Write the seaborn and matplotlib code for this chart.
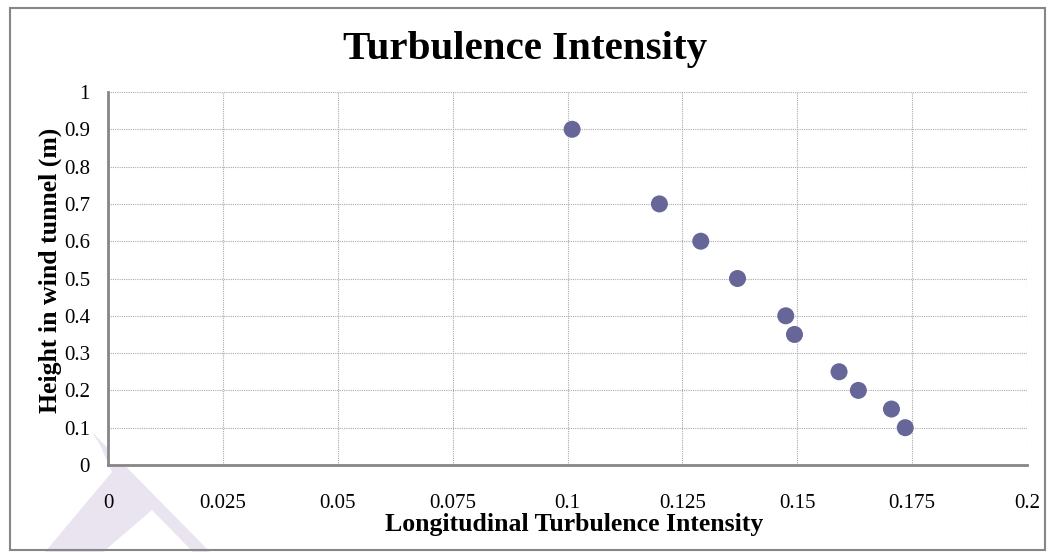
import matplotlib
matplotlib.use("Agg")
import matplotlib.pyplot as plt
import seaborn as sns
import pandas as pd
from matplotlib.patches import Rectangle, Polygon

intensity = [0.101, 0.120, 0.129, 0.137, 0.1475, 0.1494, 0.1591, 0.1633, 0.1705, 0.1735]
height = [0.9, 0.7, 0.6, 0.5, 0.4, 0.35, 0.25, 0.2, 0.15, 0.1]
x_ticks = [0, 0.025, 0.05, 0.075, 0.1, 0.125, 0.15, 0.175, 0.2]
x_labels = ["0", "0.025", "0.05", "0.075", "0.1", "0.125", "0.15", "0.175", "0.2"]
y_ticks = [0, 0.1, 0.2, 0.3, 0.4, 0.5, 0.6, 0.7, 0.8, 0.9, 1]
y_labels = ["0", "0.1", "0.2", "0.3", "0.4", "0.5", "0.6", "0.7", "0.8", "0.9", "1"]

sns.set_style("white")
plt.rcParams['font.family'] = ['Liberation Serif', 'DejaVu Serif']
plt.rcParams['text.color'] = 'black'
plt.rcParams['axes.labelcolor'] = 'black'

df = pd.DataFrame({"x": intensity, "y": height})

W, H = 1048, 552
fig = plt.figure(figsize=(W / 100, H / 100), dpi=100)

# faint watermark decoration (figure pixel outline -> figure fraction)
wm_px = [(92, 432), (210, 552), (193, 552), (152, 510), (103, 552), (45, 552), (112, 472), (100, 445)]
fig.add_artist(Polygon([(px / W, 1 - py / H) for px, py in wm_px], closed=True,
                       transform=fig.transFigure, facecolor="#e9e4f0", edgecolor="none", zorder=-1))

ax = fig.add_axes([108 / W, 1 - 465 / H, (1027 - 108) / W, (465 - 92) / H])
ax.set_facecolor("white")

sns.scatterplot(data=df, x="x", y="y", ax=ax, s=150, color="#666699", edgecolor="none", zorder=3)

ax.set_xlim(0, 0.2)
ax.set_ylim(0, 1)
ax.set_xticks(x_ticks)
ax.set_xticklabels(x_labels)
ax.set_yticks(y_ticks)
ax.set_yticklabels(y_labels)
ax.grid(True, color="#aaaaaa", linestyle=(0, (1, 1)), linewidth=0.8)
for s in ["top", "right"]:
    ax.spines[s].set_visible(False)
for s in ["left", "bottom"]:
    ax.spines[s].set_color("#868686")
    ax.spines[s].set_linewidth(2)
ax.tick_params(axis="both", which="both", direction="out", length=6, width=2, color="#868686",
               labelsize=15, labelcolor="black")
ax.tick_params(axis="x", pad=15)
ax.tick_params(axis="y", pad=7)

ax.set_xlabel("Longitudinal Turbulence Intensity", fontsize=18.5, fontweight="bold", color="black")
ax.set_ylabel("Height in wind tunnel (m)", fontsize=18.5, fontweight="bold", color="black")
ax.xaxis.label.set_va("center")
ax.yaxis.label.set_va("center")
ax.xaxis.set_label_coords((574 - 108) / 919, (465 - 524) / 373)
ax.yaxis.set_label_coords((50 - 108) / 919, (465 - 270) / 373)

fig.text(525 / W, 1 - 50 / H, "Turbulence Intensity", fontsize=29.5, fontweight="bold",
         ha="center", va="center", color="black")

fig.add_artist(Rectangle((10 / W, 1 - 550 / H), (1045 - 10) / W, (550 - 8) / H, transform=fig.transFigure,
                         fill=False, edgecolor="#868686", linewidth=1.5, zorder=5))

fig.savefig("out.png", dpi=100)
